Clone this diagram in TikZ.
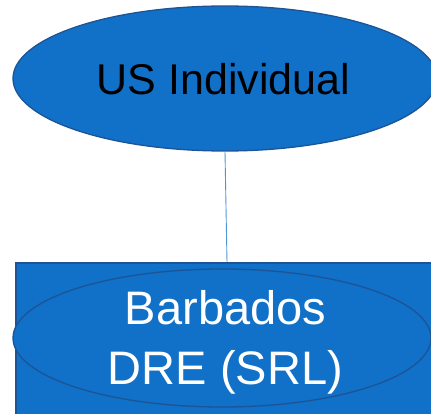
\documentclass[tikz,border=0pt]{standalone}
\usepackage{fontspec}
\setmainfont{Liberation Sans}
\usetikzlibrary{shapes.geometric}
\definecolor{pfill}{RGB}{17,112,199}
\definecolor{pedge}{RGB}{28,84,150}
\definecolor{plink}{RGB}{80,150,215}
\tikzset{
  oval/.style={ellipse, draw=pedge, line width=1.3pt, fill=pfill, inner sep=0pt},
  box/.style={rectangle, draw=pedge, line width=1.6pt, fill=pfill, inner sep=0pt},
  link/.style={draw=plink, line width=0.9pt}
}
\begin{document}
\begin{tikzpicture}[x=1pt,y=1pt]
\useasboundingbox (0,0) rectangle (431,413);
\clip (0,0) rectangle (431,413);
\node[oval, minimum width=424pt, minimum height=145pt] (us) at (225,334.5) {};
\node[font=\fontsize{43}{50}\selectfont, text=black] (ustext) at (223.5,333.5) {US Individual};
\node[box, minimum width=422.6pt, minimum height=170pt, anchor=north] (dre) at (227,151) {};
\node[oval, minimum width=418pt, minimum height=138pt] (dreell) at (222,75) {};
\node[font=\fontsize{47}{60}\selectfont, text=white, align=center] (dretext) at (225.5,71) {Barbados\\DRE (SRL)};
\draw[link] (us.south) -- (dre.north);
\end{tikzpicture}
\end{document}
